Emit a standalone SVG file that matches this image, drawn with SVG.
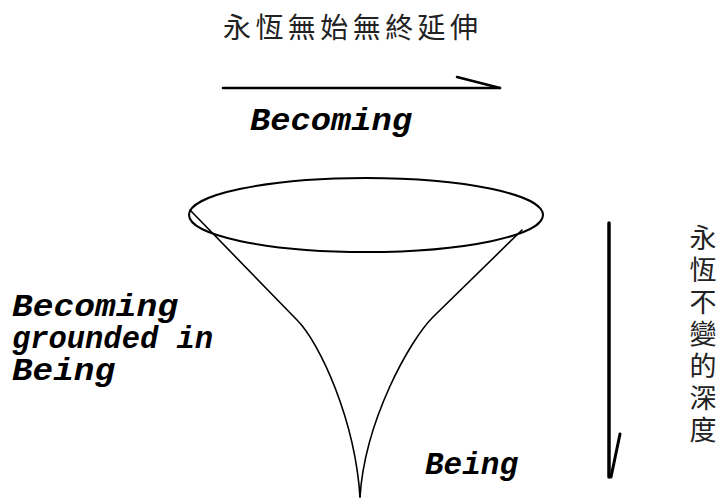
<svg xmlns="http://www.w3.org/2000/svg" width="721" height="502" viewBox="0 0 721 502">
<style>
.cjk{font-family:"Noto Sans CJK TC","Noto Sans CJK SC",sans-serif;font-size:28px;fill:#222;}
.v{font-size:27px;text-anchor:middle;}
.lat{font-family:"Liberation Mono","DejaVu Sans Mono",monospace;font-weight:bold;font-style:italic;font-size:32px;fill:#000;}
.ln{fill:none;stroke:#000;stroke-linecap:round;stroke-linejoin:round;}
</style>
<rect width="721" height="502" fill="#fff"/>
<g id="title"><text class="cjk" x="223" y="38" textLength="255" lengthAdjust="spacing">永恆無始無終延伸</text></g>
<g id="funnel">
<ellipse class="ln" cx="366" cy="215" rx="177" ry="37" stroke-width="2"/>
<path class="ln" d="M190,210 L297,320 C320,343 355,420 360,497" stroke-width="1.6"/>
<path class="ln" d="M522,230 L433,317 C410,340 365,420 360,497" stroke-width="1.6"/>
</g>
<g id="connectors">
<path class="ln" d="M223,88 L500,88" stroke-width="2.5"/>
<path class="ln" d="M457,77 L500,88" stroke-width="2.5"/>
<path class="ln" d="M609,223 L609,477" stroke-width="3.5"/>
<path class="ln" d="M620,434 L611,477" stroke-width="3"/>
</g>
<g id="becoming-top"><text class="lat" x="250" y="130" textLength="162" lengthAdjust="spacingAndGlyphs">Becoming</text></g>
<g id="left-label">
<text class="lat" x="12" y="316" textLength="166" lengthAdjust="spacingAndGlyphs">Becoming</text>
<text class="lat" x="12" y="348" textLength="201" lengthAdjust="spacingAndGlyphs">grounded in</text>
<text class="lat" x="12" y="380" textLength="103" lengthAdjust="spacingAndGlyphs">Being</text>
</g>
<g id="being"><text class="lat" x="425" y="474" textLength="93" lengthAdjust="spacingAndGlyphs">Being</text></g>
<g id="depth" class="cjk">
<text class="cjk v" x="703" y="248">永</text>
<text class="cjk v" x="703" y="280">恆</text>
<text class="cjk v" x="703" y="312">不</text>
<text class="cjk v" x="703" y="344">變</text>
<text class="cjk v" x="703" y="376">的</text>
<text class="cjk v" x="703" y="408">深</text>
<text class="cjk v" x="703" y="440">度</text>
</g>
</svg>
